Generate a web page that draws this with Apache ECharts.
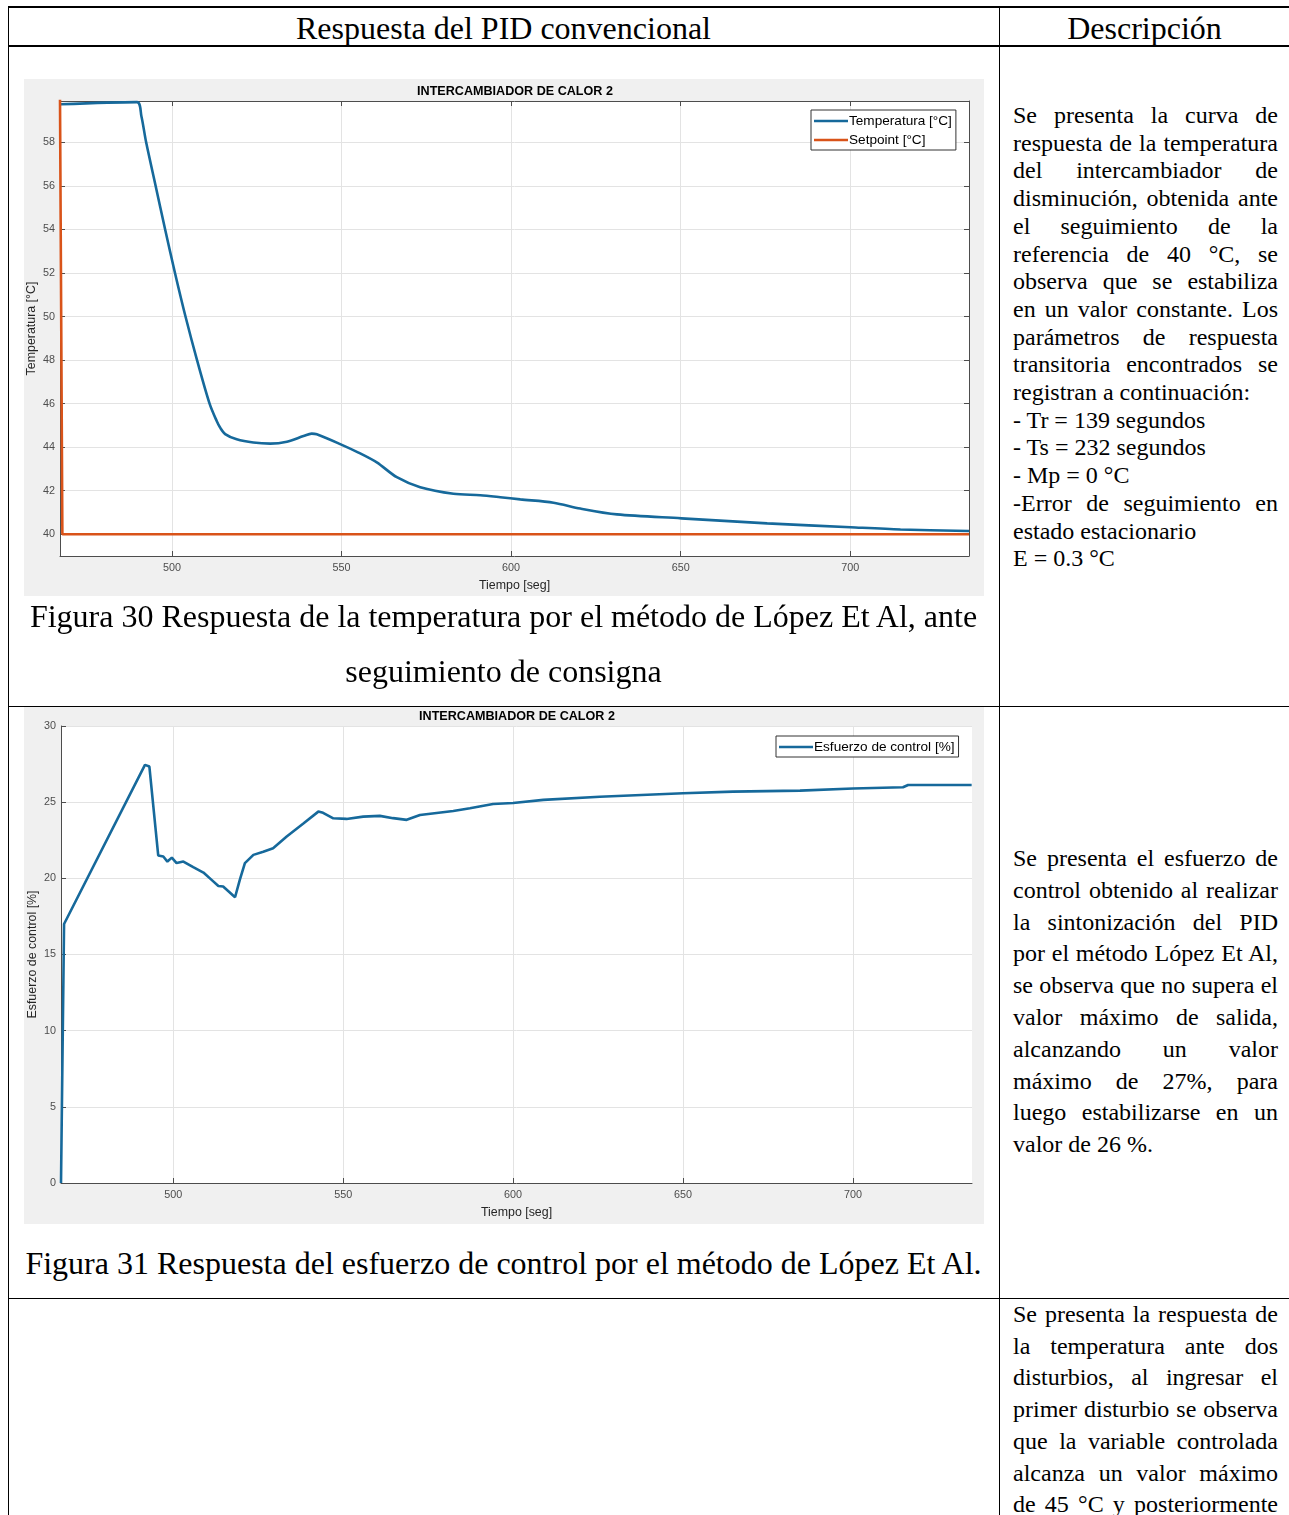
<!DOCTYPE html>
<html>
<head>
<meta charset="utf-8">
<script src="https://cdn.jsdelivr.net/npm/echarts@6/dist/echarts.min.js"></script>
<style>
  html,body{margin:0;padding:0;background:#fff;}
  #page{position:relative;width:1289px;height:1515px;overflow:hidden;background:#fff;font-family:"Liberation Serif","Times New Roman",serif;color:#000;}
  .hl{position:absolute;background:#000;height:1px;}
  .vl{position:absolute;background:#000;width:1px;}
  .hdr{position:absolute;font-size:32px;line-height:38px;text-align:center;white-space:nowrap;}
  .cap{position:absolute;font-size:32px;line-height:55px;text-align:center;white-space:nowrap;}
  .desc{position:absolute;left:1013px;width:265px;font-size:24px;}
  .desc div{white-space:nowrap;overflow:visible;}
  .desc .j{text-align:justify;text-align-last:justify;white-space:normal;}
  .chart{position:absolute;background:#f0f0f0;}
</style>
</head>
<body>
<div id="page">
  <!-- table rules -->
  <div class="hl" style="left:8px;top:6px;width:1281px;height:2px;"></div>
  <div class="hl" style="left:8px;top:45px;width:1281px;height:2px;"></div>
  <div class="hl" style="left:8px;top:706px;width:1281px;"></div>
  <div class="hl" style="left:8px;top:1298px;width:1281px;"></div>
  <div class="vl" style="left:8px;top:6px;height:1509px;"></div>
  <div class="vl" style="left:999px;top:6px;height:1509px;"></div>

  <div class="hdr" style="left:8px;width:991px;top:9px;">Respuesta del PID convencional</div>
  <div class="hdr" style="left:1000px;width:289px;top:9px;">Descripción</div>

  <div id="c1" class="chart" style="left:24px;top:79px;width:960px;height:517px;"></div>
  <div class="cap" style="left:8px;width:991px;top:589px;">Figura 30 Respuesta de la temperatura por el método de López Et Al, ante</div>
  <div class="cap" style="left:8px;width:991px;top:644px;">seguimiento de consigna</div>

  <div id="c2" class="chart" style="left:24px;top:707px;width:960px;height:517px;"></div>
  <div class="cap" style="left:8px;width:991px;top:1236px;">Figura 31 Respuesta del esfuerzo de control por el método de López Et Al.</div>

  <div class="desc" style="top:102px;line-height:27.7px;">
    <div class="j">Se presenta la curva de</div>
    <div class="j">respuesta de la temperatura</div>
    <div class="j">del intercambiador de</div>
    <div class="j">disminución, obtenida ante</div>
    <div class="j">el seguimiento de la</div>
    <div class="j">referencia de 40 °C, se</div>
    <div class="j">observa que se estabiliza</div>
    <div class="j">en un valor constante. Los</div>
    <div class="j">parámetros de respuesta</div>
    <div class="j">transitoria encontrados se</div>
    <div>registran a continuación:</div>
    <div>- Tr = 139 segundos</div>
    <div>- Ts = 232 segundos</div>
    <div>- Mp = 0 °C</div>
    <div class="j">-Error de seguimiento en</div>
    <div>estado estacionario</div>
    <div>E = 0.3 °C</div>
  </div>

  <div class="desc" style="top:843px;line-height:31.8px;">
    <div class="j">Se presenta el esfuerzo de</div>
    <div class="j">control obtenido al realizar</div>
    <div class="j">la sintonización del PID</div>
    <div class="j">por el método López Et Al,</div>
    <div class="j">se observa que no supera el</div>
    <div class="j">valor máximo de salida,</div>
    <div class="j">alcanzando un valor</div>
    <div class="j">máximo de 27%, para</div>
    <div class="j">luego estabilizarse en un</div>
    <div>valor de 26 %.</div>
  </div>

  <div class="desc" style="top:1299px;line-height:31.7px;">
    <div class="j">Se presenta la respuesta de</div>
    <div class="j">la temperatura ante dos</div>
    <div class="j">disturbios, al ingresar el</div>
    <div class="j">primer disturbio se observa</div>
    <div class="j">que la variable controlada</div>
    <div class="j">alcanza un valor máximo</div>
    <div class="j">de 45 °C y posteriormente</div>
  </div>
</div>

<script>
// ---------- DATA ----------
const chartTitle = "INTERCAMBIADOR DE CALOR 2";
const xTicks = [500, 550, 600, 650, 700];
const tempYTicks = [40, 42, 44, 46, 48, 50, 52, 54, 56, 58];

const tempTime = [467, 489.7, 491, 492.4, 495.2, 498.0, 500.9, 504.0, 507.4, 511.1, 513.2, 514.2, 515.7, 519.1, 524, 529, 533.9, 538.8, 541.2, 542.7, 549.6, 555, 560.4, 566.3, 573.2, 583, 590.9, 596.8, 602.7, 612.5, 620.4, 631.2, 650.2, 675.5, 700.1, 714.8, 735];
const tempValues = [59.75, 59.85, 59.2, 58, 56, 54, 52, 50, 48, 46, 45.2, 44.9, 44.6, 44.36, 44.21, 44.16, 44.25, 44.51, 44.62, 44.59, 44.14, 43.75, 43.3, 42.62, 42.16, 41.86, 41.79, 41.7, 41.6, 41.45, 41.18, 40.91, 40.73, 40.5, 40.32, 40.22, 40.15];

const setpointTime = [467, 467.7, 735];
const setpointValues = [60, 40, 40];

const effortTime = [467, 467.9, 491.7, 493, 495.6, 497.1, 498.3, 499.6, 501, 503, 505.9, 508.9, 511.3, 513.3, 514.7, 518.2, 519.6, 521.1, 523.6, 526.5, 529.4, 533.4, 538.3, 542.7, 544.1, 547.1, 551, 555.9, 560.8, 564.7, 568.7, 572.6, 582.4, 587.3, 594.1, 600, 608.9, 625.5, 650, 664.7, 684.4, 700, 714.7, 716.2, 734.9];
const effortValues = [0, 17.0, 27.45, 27.34, 21.5, 21.43, 21.1, 21.36, 21.0, 21.1, 20.73, 20.38, 19.9, 19.5, 19.46, 18.76, 19.9, 21.0, 21.54, 21.75, 21.98, 22.74, 23.6, 24.38, 24.3, 23.94, 23.9, 24.05, 24.1, 23.95, 23.84, 24.16, 24.42, 24.6, 24.88, 24.95, 25.15, 25.36, 25.59, 25.69, 25.76, 25.9, 25.98, 26.13, 26.13];

// ---------- STYLE ----------
const BLUE = '#16699b', ORANGE = '#d95319';
const AX = '#4d4d4d', GRID = '#e3e3e3';
const SANS = '"Liberation Sans", Arial, Helvetica, sans-serif';
const TICKFS = 10.8, NAMEFS = 12.4, TITLEFS = 12.6, LEGFS = 13.6;

function zip(a, b) { return a.map((v, i) => [v, b[i]]); }

function baseX() {
  return {
    type: 'value', min: 467, max: 735,
    axisLine: { show: true, lineStyle: { color: AX, width: 1 } },
    axisTick: { show: true, inside: true, length: 5, customValues: xTicks, lineStyle: { color: AX } },
    axisLabel: { customValues: xTicks, color: AX, fontSize: TICKFS, fontFamily: SANS, margin: 7 },
    splitLine: { show: true, lineStyle: { color: GRID, width: 1 } },
    name: 'Tiempo [seg]', nameLocation: 'middle', nameGap: 24, nameMoveOverlap: false,
    nameTextStyle: { color: '#262626', fontSize: NAMEFS, fontFamily: SANS }
  };
}

function legendOpt(left, top, names) {
  return {
    left: left, top: top, orient: 'vertical', icon: 'rect', itemWidth: 34, itemHeight: 2.6, itemGap: 3,
    padding: [3, 4, 2, 3], backgroundColor: '#fff', borderColor: '#333', borderWidth: 1, borderRadius: 0,
    textStyle: { fontSize: LEGFS, lineHeight: 16, color: '#000', fontFamily: SANS, padding: [0, 0, 0, -4] },
    data: names
  };
}

// ---------- CHART 1 ----------
const c1 = echarts.init(document.getElementById('c1'), null, { renderer: 'canvas' });
c1.setOption({
  animation: false,
  backgroundColor: '#f0f0f0',
  title: { text: chartTitle, left: 486, top: 1, textAlign: 'center',
    textStyle: { fontSize: TITLEFS, fontWeight: 'bold', color: '#000', fontFamily: SANS } },
  grid: { left: 36, top: 22, width: 909, height: 455, show: true, backgroundColor: '#fff', borderWidth: 0,
    containLabel: false, outerBoundsMode: 'none' },
  legend: legendOpt(787, 31, ['Temperatura [°C]', 'Setpoint [°C]']),
  xAxis: [
    baseX(),
    { type: 'value', min: 467, max: 735, position: 'top',
      axisLine: { show: true, lineStyle: { color: AX } },
      axisTick: { show: true, inside: true, length: 5, customValues: xTicks, lineStyle: { color: AX } },
      axisLabel: { show: false }, splitLine: { show: false } }
  ],
  yAxis: [
    { type: 'value', min: 39, max: 59.9,
      axisLine: { show: true, lineStyle: { color: AX } },
      axisTick: { show: true, inside: true, length: 5, customValues: tempYTicks, lineStyle: { color: AX } },
      axisLabel: { customValues: tempYTicks, color: AX, fontSize: TICKFS, fontFamily: SANS, margin: 5 },
      splitLine: { show: true, lineStyle: { color: GRID } },
      name: 'Temperatura [°C]', nameLocation: 'middle', nameGap: 22, nameRotate: 90, nameMoveOverlap: false,
      nameTextStyle: { color: '#262626', fontSize: NAMEFS, fontFamily: SANS } },
    { type: 'value', min: 39, max: 59.9, position: 'right',
      axisLine: { show: true, lineStyle: { color: AX } },
      axisTick: { show: true, inside: true, length: 5, customValues: tempYTicks, lineStyle: { color: AX } },
      axisLabel: { show: false }, splitLine: { show: false } }
  ],
  series: [
    { name: 'Temperatura [°C]', type: 'line', data: zip(tempTime, tempValues), symbol: 'none', smooth: 0.3,
      lineStyle: { color: BLUE, width: 2.6 }, itemStyle: { color: BLUE } },
    { name: 'Setpoint [°C]', type: 'line', data: zip(setpointTime, setpointValues), symbol: 'none',
      lineStyle: { color: ORANGE, width: 2.6 }, itemStyle: { color: ORANGE } }
  ]
});

// ---------- CHART 2 ----------
const c2 = echarts.init(document.getElementById('c2'), null, { renderer: 'canvas' });
c2.setOption({
  animation: false,
  backgroundColor: '#f0f0f0',
  title: { text: chartTitle, left: 488, top: -2, textAlign: 'center',
    textStyle: { fontSize: TITLEFS, fontWeight: 'bold', color: '#000', fontFamily: SANS } },
  grid: { left: 37, top: 19, width: 911, height: 457, show: true, backgroundColor: '#fff', borderWidth: 0,
    containLabel: false, outerBoundsMode: 'none' },
  legend: legendOpt(752, 29, ['Esfuerzo de control [%]']),
  xAxis: baseX(),
  yAxis: { type: 'value', min: 0, max: 30, interval: 5,
    axisLine: { show: true, lineStyle: { color: AX } },
    axisTick: { show: true, inside: true, length: 5, lineStyle: { color: AX } },
    axisLabel: { color: AX, fontSize: TICKFS, fontFamily: SANS, margin: 5 },
    splitLine: { show: true, lineStyle: { color: GRID } },
    name: 'Esfuerzo de control [%]', nameLocation: 'middle', nameGap: 22, nameRotate: 90, nameMoveOverlap: false,
    nameTextStyle: { color: '#262626', fontSize: NAMEFS, fontFamily: SANS } },
  series: [
    { name: 'Esfuerzo de control [%]', type: 'line', data: zip(effortTime, effortValues), symbol: 'none',
      lineStyle: { color: BLUE, width: 2.6 }, itemStyle: { color: BLUE } }
  ]
});
</script>
</body>
</html>
